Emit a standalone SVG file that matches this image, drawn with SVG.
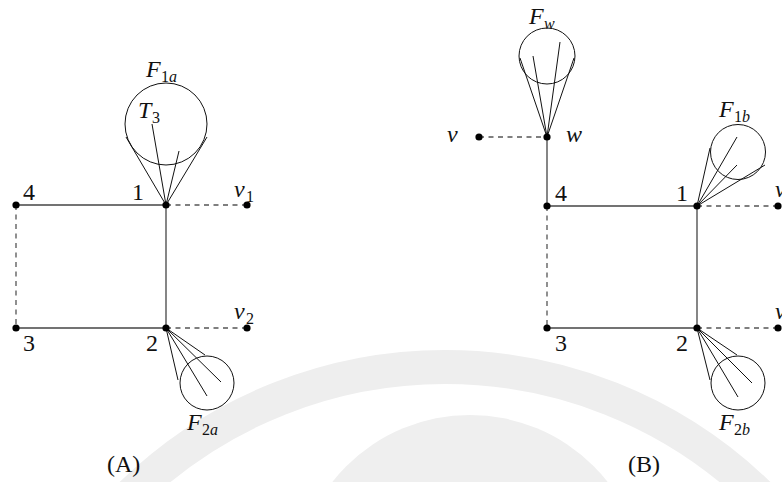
<svg xmlns="http://www.w3.org/2000/svg" width="782" height="482" viewBox="0 0 782 482">
<style>
.wm{fill:none;stroke:#eeeeee;stroke-width:34}
.wmd{fill:#efefef;stroke:none}
.e{stroke:#444;stroke-width:1.3;fill:none}
.d{stroke:#555;stroke-width:1.3;fill:none;stroke-dasharray:5 4.5}
.c{stroke:#111;stroke-width:1;fill:none}
.f{stroke:#111;stroke-width:1;fill:none}
.n{fill:#000}
text{font-family:"Liberation Serif","DejaVu Serif",serif;font-size:24px;fill:#111}
.i{font-style:italic}
.s{font-size:16px}
</style>
<rect width="782" height="482" fill="#fff"/>
<g id="watermark">
<circle class="wm" cx="445" cy="817" r="450"/>
<circle class="wmd" cx="470" cy="590" r="175"/>
</g>
<g id="connectors">
<line class="e" x1="16" y1="205" x2="166" y2="205"/>
<line class="e" x1="166" y1="205" x2="166" y2="328"/>
<line class="e" x1="16" y1="328" x2="166" y2="328"/>
<line class="d" x1="16" y1="205" x2="16" y2="328"/>
<line class="d" x1="166" y1="205" x2="247" y2="205"/>
<line class="d" x1="166" y1="328" x2="247" y2="328"/>
<line class="e" x1="547" y1="137" x2="547" y2="206"/>
<line class="e" x1="547" y1="206" x2="697" y2="206"/>
<line class="e" x1="697" y1="206" x2="697" y2="328"/>
<line class="e" x1="547" y1="328" x2="697" y2="328"/>
<line class="d" x1="547" y1="206" x2="547" y2="328"/>
<line class="d" x1="479" y1="137" x2="547" y2="137"/>
<line class="d" x1="697" y1="206" x2="778" y2="206"/>
<line class="d" x1="697" y1="328" x2="778" y2="328"/>
</g>
<g id="F1a">
<circle class="c" cx="166" cy="124" r="41"/>
<path class="f" d="M166 205L126 137M166 205L207 137M166 205L152 124M166 205L179 151"/>
<text x="146" y="77" class="i">F</text><text x="161" y="82" class="s">1<tspan class="i">a</tspan></text>
<text x="138" y="118" class="i">T</text><text x="152" y="123" class="s">3</text>
</g>
<g id="F2a">
<circle class="c" cx="207" cy="383" r="27"/>
<path class="f" d="M166 328L178 380M166 328L205 355M166 328L207 396M166 328L221 382"/>
<text x="187" y="430" class="i">F</text><text x="202" y="435" class="s">2<tspan class="i">a</tspan></text>
</g>
<g id="A1"><circle class="n" cx="166" cy="205" r="3.6"/><text x="132" y="200">1</text></g>
<g id="A4"><circle class="n" cx="16" cy="205" r="3.6"/><text x="23" y="200">4</text></g>
<g id="A3"><circle class="n" cx="16" cy="328" r="3.6"/><text x="23" y="351">3</text></g>
<g id="A2"><circle class="n" cx="166" cy="328" r="3.6"/><text x="146" y="351">2</text></g>
<g id="Av1"><circle class="n" cx="247" cy="205" r="3.6"/><text x="234" y="197" class="i">v</text><text x="246" y="202" class="s">1</text></g>
<g id="Av2"><circle class="n" cx="247" cy="328" r="3.6"/><text x="234" y="319" class="i">v</text><text x="246" y="324" class="s">2</text></g>
<g id="labelA"><text x="107" y="472">(A)</text></g>
<g id="Fw">
<circle class="c" cx="547" cy="56" r="28"/>
<path class="f" d="M547 137L520 58M547 137L574 58M547 137L533 56M547 137L560 42"/>
<text x="529" y="24" class="i">F</text><text x="544" y="29" class="s i">w</text>
</g>
<g id="F1b">
<circle class="c" cx="738" cy="152" r="27.5"/>
<path class="f" d="M697 206L710 148M697 206L765 165M697 206L737 137M697 206L737 165"/>
<text x="719" y="117" class="i">F</text><text x="734" y="122" class="s">1<tspan class="i">b</tspan></text>
</g>
<g id="F2b">
<circle class="c" cx="738" cy="383" r="27"/>
<path class="f" d="M697 328L710 380M697 328L737 355M697 328L738 397M697 328L752 383"/>
<text x="719" y="430" class="i">F</text><text x="734" y="435" class="s">2<tspan class="i">b</tspan></text>
</g>
<g id="Bw"><circle class="n" cx="547" cy="137" r="3.6"/><text x="566" y="142" class="i">w</text></g>
<g id="Bv"><circle class="n" cx="479" cy="137" r="3.6"/><text x="447" y="142" class="i">v</text></g>
<g id="B4"><circle class="n" cx="547" cy="206" r="3.6"/><text x="555" y="201">4</text></g>
<g id="B1"><circle class="n" cx="697" cy="206" r="3.6"/><text x="676" y="201">1</text></g>
<g id="B3"><circle class="n" cx="547" cy="328" r="3.6"/><text x="555" y="351">3</text></g>
<g id="B2"><circle class="n" cx="697" cy="328" r="3.6"/><text x="676" y="351">2</text></g>
<g id="Bv1"><circle class="n" cx="778" cy="206" r="3.6"/><text x="775" y="197" class="i">v</text><text x="787" y="202" class="s">1</text></g>
<g id="Bv2"><circle class="n" cx="778" cy="328" r="3.6"/><text x="775" y="319" class="i">v</text><text x="787" y="324" class="s">2</text></g>
<g id="labelB"><text x="628" y="472">(B)</text></g>
</svg>
